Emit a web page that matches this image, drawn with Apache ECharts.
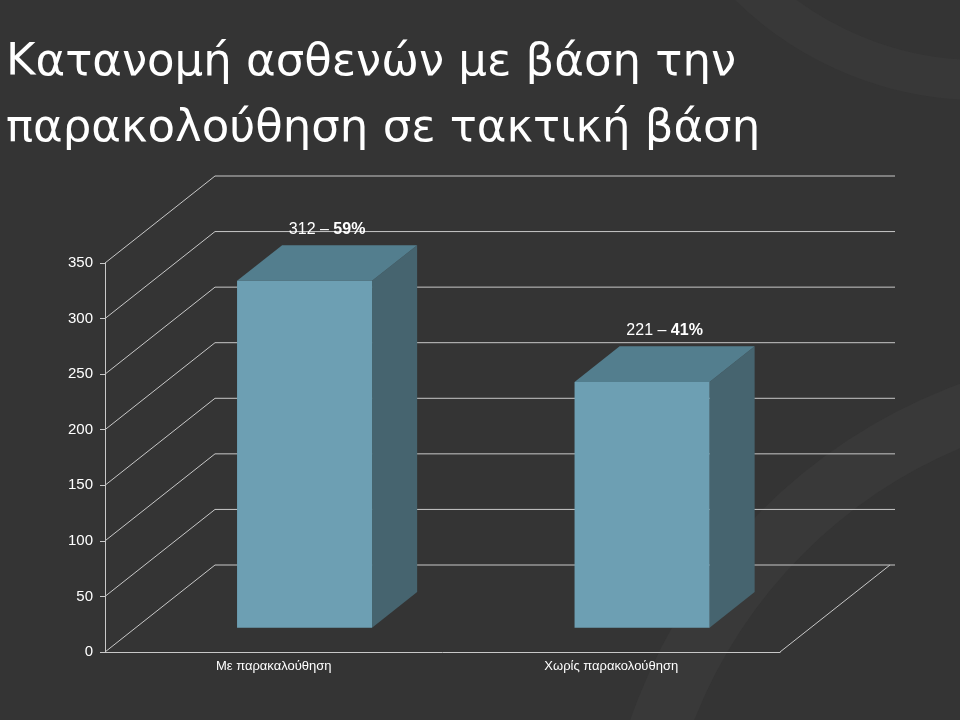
<!DOCTYPE html><html><head><meta charset="utf-8"><script src="https://cdn.jsdelivr.net/npm/echarts@6/dist/echarts.min.js"></script>
<style>html,body{margin:0;background:#333;}#c{width:960px;height:720px;}</style></head><body><div id="c"></div><script>
const categories=['Με παρακαλούθηση','Χωρίς παρακολούθηση'];
const values=[312,221];
const percents=['59%','41%'];
const yTicks=[0,50,100,150,200,250,300,350];
const DX=110,DY=-87,LINE='#c8c8c8';
const chart=echarts.init(document.getElementById('c'));
chart.setOption({
backgroundColor:'#343434',
animation:false,
graphic:[
{type:'circle',shape:{cx:1150,cy:900,r:520},style:{fill:'none',stroke:'#393939',lineWidth:60},silent:true,z:-10},
{type:'circle',shape:{cx:980,cy:-250,r:330},style:{fill:'none',stroke:'#383838',lineWidth:40},silent:true,z:-10},
{type:'text',left:6,top:30,style:{text:'Κατανομή ασθενών με βάση την\nπαρακολούθηση σε τακτική βάση',fill:'#fff',font:'45px "DejaVu Sans", sans-serif',lineHeight:66}}
],
grid:{left:105,right:180,top:263,bottom:68},
xAxis:{type:'category',data:categories,axisLine:{lineStyle:{color:LINE}},axisTick:{lineStyle:{color:LINE},length:5},
 axisLabel:{color:'#fff',fontSize:13,fontFamily:'Liberation Sans'}},
yAxis:{type:'value',min:0,max:350,interval:50,axisLine:{show:true,lineStyle:{color:LINE}},axisTick:{show:true,lineStyle:{color:LINE},length:5},
 splitLine:{show:false},axisLabel:{color:'#fff',fontSize:15,fontFamily:'Liberation Sans',margin:12}},
series:[
{type:'custom',data:yTicks.map(v=>[0,v]),silent:true,z:1,
 renderItem:function(params,api){
  const v=api.value(1);
  const cs=params.coordSys;
  const p=api.coord([0,v]);const x0=cs.x,x1=cs.x+cs.width;const y=p[1];
  const ch=[
   {type:'line',shape:{x1:x0,y1:y,x2:x0+DX,y2:y+DY},style:{stroke:LINE,lineWidth:1}},
   {type:'line',shape:{x1:x0+DX,y1:y+DY,x2:x1+DX+5,y2:y+DY},style:{stroke:LINE,lineWidth:1}}];
  if(v===0){ch.push({type:'line',shape:{x1:x1,y1:y,x2:x1+DX,y2:y+DY},style:{stroke:LINE,lineWidth:1}});}
  return {type:'group',children:ch};
 }},
{type:'custom',data:values.map((v,i)=>[i,v]),z:5,
 renderItem:function(params,api){
  const i=api.value(0),v=api.value(1);
  const top=api.coord([i,v]),bot=api.coord([i,0]);
  const w=135,s0=0.28,d=0.41;
  const ox=DX*s0,oy=DY*s0,dx=DX*d,dy=DY*d;
  const xl=top[0]-w/2+ox,xr=xl+w,yt=top[1]+oy,yb=bot[1]+oy;
  return {type:'group',children:[
   {type:'polygon',shape:{points:[[xr,yt],[xr+dx,yt+dy],[xr+dx,yb+dy],[xr,yb]]},style:{fill:'#46646f'}},
   {type:'polygon',shape:{points:[[xl,yt],[xl+dx,yt+dy],[xr+dx,yt+dy],[xr,yt]]},style:{fill:'#537e8e'}},
   {type:'rect',shape:{x:xl,y:yt,width:w,height:yb-yt},style:{fill:'#6d9fb3'}},
   {type:'text',style:{x:xl+w/2+dx/2,y:yt+dy-8,text:'{a|'+v+' – }{b|'+percents[i]+'}',align:'center',verticalAlign:'bottom',
     rich:{a:{fill:'#fff',fontSize:16,fontFamily:'Liberation Sans'},b:{fill:'#fff',fontSize:16,fontWeight:'bold',fontFamily:'Liberation Sans'}}}}
  ]};
 }}
]});
</script></body></html>
